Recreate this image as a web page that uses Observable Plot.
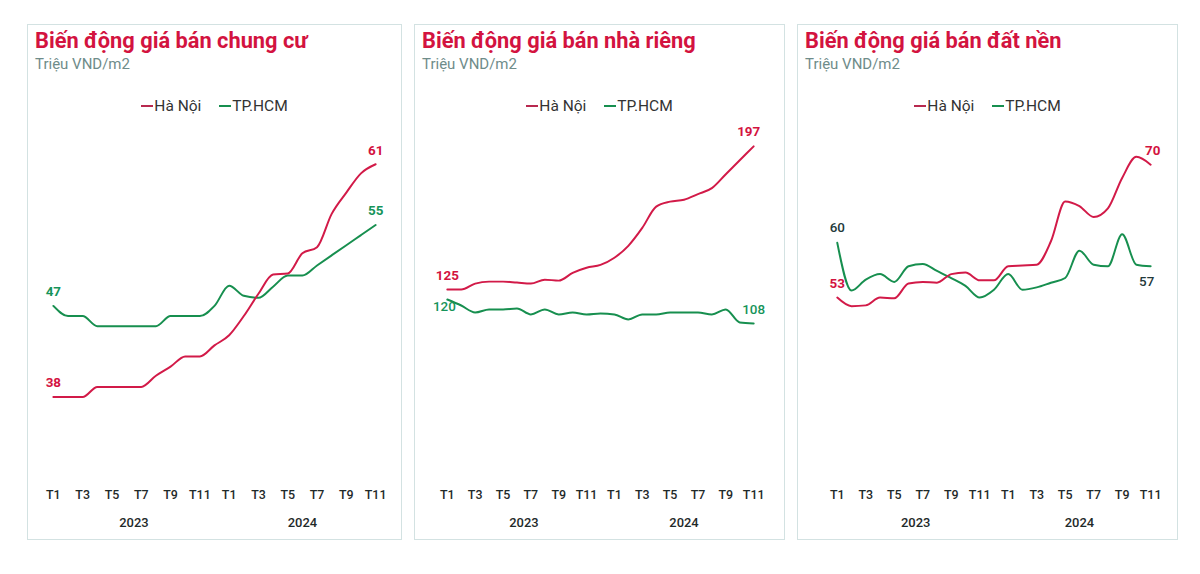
<!DOCTYPE html>
<html>
<head>
<meta charset="utf-8">
<script src="https://cdn.jsdelivr.net/npm/d3@7"></script>
<script src="https://cdn.jsdelivr.net/npm/@observablehq/plot@0.6"></script>
<style>
  html, body { margin: 0; padding: 0; background: #ffffff; }
  body { width: 1200px; height: 574px; position: relative; overflow: hidden; font-family: Roboto, "Noto Sans", sans-serif; }
  .panel { position: absolute; top: 24px; height: 516px; border: 1px solid #d3e2e2; box-sizing: border-box; background: #fff; }
  .title { position: absolute; left: 7px; top: 3px; font-size: 21.8px; font-weight: 700; color: #d3133f; white-space: nowrap; }
  .sub { position: absolute; left: 7px; top: 30px; font-size: 15px; color: #6f8c8a; white-space: nowrap; }
  .legend { position: absolute; top: 72px; left: 0; right: 0; text-align: center; font-size: 15.5px; color: #333; white-space: nowrap; }
  .legend span.item { display: inline-block; margin: 0 9px; }
  .legend span.sw { display: inline-block; width: 12px; height: 2px; vertical-align: middle; margin-right: 1px; position: relative; top: -1px; }
  .chart { position: absolute; left: -1px; top: 95px; }
</style>
</head>
<body>
<script>
// ---- data ----
const months = ["T1","T2","T3","T4","T5","T6","T7","T8","T9","T10","T11","T12",
                "T1","T2","T3","T4","T5","T6","T7","T8","T9","T10","T11"];
const years = ["2023", "2024"];
const seriesNames = ["Hà Nội", "TP.HCM"];
const titles = ["Biến động giá bán chung cư", "Biến động giá bán nhà riêng", "Biến động giá bán đất nền"];
const unitLabel = "Triệu VND/m2";

const chungCuHN  = [38,38,38,39,39,39,39,40.1,41,42,42,43.1,44.1,46,48.2,50.1,50.2,52.2,52.8,56.1,58.2,60.1,61];
const chungCuHCM = [47,46,46,45,45,45,45,45,46,46,46,47,49,48,47.8,48.9,50,50,51,52,53,54,55];
const nhaRiengHN  = [125,125,128,129,129,128.5,128,130,129.5,133.4,136,137.4,141,147,156,166.7,169.2,170.2,173,176,183,190,197];
const nhaRiengHCM = [120,117,113.5,115,115,115.5,112.5,115,112.5,113.5,112.5,113,112.5,110,112.5,112.5,113.5,113.5,113.5,112.5,115,108.5,108];
const datNenHN  = [53,51.9,52,53,52.9,54.8,55,54.9,56,56.2,55.2,55.2,57,57.1,57.2,60.2,65.3,64.7,63.3,64.4,68.3,71,70];
const datNenHCM = [60,53.9,55.3,56,55,57,57.3,56.4,55.5,54.5,53,54,56,54,54.3,54.9,55.5,59,57.2,57,61.1,57.2,57];

const RED = "#d21a48";
const GREEN = "#178f4f";
const RED_TXT = "#d3133f";
const GREEN_TXT = "#16945a";
const DARK_TXT = "#23393a";

const panels = [
  { left: 27, width: 375, title: titles[0], hn: chungCuHN, hcm: chungCuHCM,
    mL: 26, mR: 25, yDom: [38, 61], yRange: [397, 163],
    labels: [
      {i: 0, s: "hn", dx: 0, dy: -14, color: RED_TXT, bold: true},
      {i: 22, s: "hn", dx: 0, dy: -14, color: RED_TXT, bold: true},
      {i: 0, s: "hcm", dx: 0, dy: -14, color: GREEN_TXT, bold: true},
      {i: 22, s: "hcm", dx: 0, dy: -14, color: GREEN_TXT, bold: true}
    ]},
  { left: 414, width: 371, title: titles[1], hn: nhaRiengHN, hcm: nhaRiengHCM,
    mL: 33, mR: 30, yDom: [125, 197], yRange: [289, 145],
    labels: [
      {i: 0, s: "hn", dx: 0, dy: -14, color: RED_TXT, bold: true},
      {i: 22, s: "hn", dx: -5, dy: -15, color: RED_TXT, bold: true},
      {i: 0, s: "hcm", dx: -3, dy: 7, color: GREEN_TXT, bold: false},
      {i: 22, s: "hcm", dx: 0, dy: -14, color: GREEN_TXT, bold: false}
    ]},
  { left: 797, width: 381, title: titles[2], hn: datNenHN, hcm: datNenHCM,
    mL: 40, mR: 26, yDom: [53, 70], yRange: [297, 163.4],
    labels: [
      {i: 0, s: "hn", dx: 0, dy: -14, color: RED_TXT, bold: true},
      {i: 22, s: "hn", dx: 2, dy: -14, color: RED_TXT, bold: true},
      {i: 0, s: "hcm", dx: 0, dy: -15, color: DARK_TXT, bold: false},
      {i: 22, s: "hcm", dx: -4, dy: 15, color: DARK_TXT, bold: false}
    ]}
];

const TOP = 24 + 95; // absolute y of chart svg top
const H = 422;

for (const p of panels) {
  const div = document.createElement("div");
  div.className = "panel";
  div.style.left = p.left + "px";
  div.style.width = p.width + "px";
  div.innerHTML = `<div class="title">${p.title}</div><div class="sub">${unitLabel}</div>
    <div class="legend"><span class="item"><span class="sw" style="background:${"#b8294f"}"></span>${seriesNames[0]}</span><span class="item"><span class="sw" style="background:${GREEN}"></span>${seriesNames[1]}</span></div>`;
  document.body.appendChild(div);

  const rows = [];
  p.hn.forEach((v, i) => rows.push({i, v, s: "hn"}));
  p.hcm.forEach((v, i) => rows.push({i, v, s: "hcm"}));

  const lab = p.labels.map(l => ({...l, v: (l.s === "hn" ? p.hn : p.hcm)[l.i]}));

  const chart = Plot.plot({
    width: p.width,
    height: H,
    marginLeft: p.mL,
    marginRight: p.mR,
    marginTop: 0,
    marginBottom: 53,
    style: { fontFamily: "Roboto, sans-serif", background: "transparent", overflow: "visible" },
    x: { type: "linear", domain: [0, 22] },
    y: { domain: p.yDom, range: p.yRange.map(v => v - TOP), axis: null },
    marks: [
      Plot.axisX(d3.range(0, 23, 2), {
        tickSize: 0, tickPadding: 3, tickFormat: i => months[i],
        fontSize: 12.5, fill: "#1f2a2a", label: null, fontWeight: 500
      }),
      Plot.axisX([5.5, 17], {
        tickSize: 0, tickPadding: 30, tickFormat: (d, k) => years[k],
        fontSize: 13, fill: "#1f2a2a", label: null, fontWeight: 500
      }),
      Plot.line(rows.filter(d => d.s === "hcm"), {x: "i", y: "v", stroke: GREEN, strokeWidth: 2, curve: "monotone-x"}),
      Plot.line(rows.filter(d => d.s === "hn"), {x: "i", y: "v", stroke: RED, strokeWidth: 2, curve: "monotone-x"}),
      ...lab.map(l => Plot.text([l], {
        x: "i", y: "v", text: d => String(Math.round(d.v)),
        dx: l.dx, dy: l.dy, fill: l.color, fontSize: 13.5,
        fontWeight: l.bold ? 700 : 500, textAnchor: "middle"
      }))
    ]
  });
  chart.classList.add("chart");
  div.appendChild(chart);
}
</script>
</body>
</html>
